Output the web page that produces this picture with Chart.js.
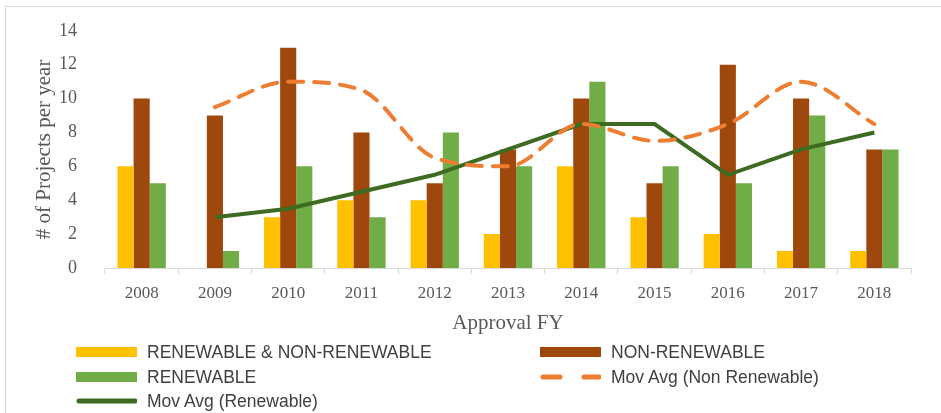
<!DOCTYPE html>
<html>
<head>
<meta charset="utf-8">
<script src="https://cdn.jsdelivr.net/npm/chart.js@4"></script>
<style>
  html, body { margin: 0; padding: 0; background: #fff; }
  #wrap { position: relative; width: 941px; height: 413px; }
  #frame { position: absolute; left: 5px; top: 6px; right: 0; bottom: 0; border-top: 1px solid #d9d9d9; border-left: 1px solid #d9d9d9; }
  #chart { position: absolute; left: 0; top: 0; }
  #legend { position: absolute; left: 0; top: 0; width: 941px; height: 413px; font-family: "Liberation Sans", Arial, sans-serif; font-size: 17.5px; color: #404040; }
  .item { position: absolute; display: flex; align-items: center; height: 20px; white-space: nowrap; }
  .item canvas { margin-right: 10px; }
</style>
</head>
<body>
<div id="wrap">
  <div id="frame"></div>
  <canvas id="chart" width="941" height="413"></canvas>
  <div id="legend"></div>
</div>
<script>
const years = ['2008', '2009', '2010', '2011', '2012', '2013', '2014', '2015', '2016', '2017', '2018'];
const bothProjects = [6, 0, 3, 4, 4, 2, 6, 3, 2, 1, 1];
const nonRenewable = [10, 9, 13, 8, 5, 7, 10, 5, 12, 10, 7];
const renewable = [5, 1, 6, 3, 8, 6, 11, 6, 5, 9, 7];
const movAvgNonRenewable = [null, 9.5, 11, 10.5, 6.5, 6, 8.5, 7.5, 8.5, 11, 8.5];
const movAvgRenewable = [null, 3, 3.5, 4.5, 5.5, 7, 8.5, 8.5, 5.5, 7, 8];
const yTicks = [0, 2, 4, 6, 8, 10, 12, 14];

const serif = '"Liberation Serif", "DejaVu Serif", serif';
const textColor = '#595959';

const datasets = [
    { type: 'bar', label: 'RENEWABLE & NON-RENEWABLE', data: bothProjects, backgroundColor: '#FFC000', order: 3 },
    { type: 'bar', label: 'NON-RENEWABLE', data: nonRenewable, backgroundColor: '#9E480E', order: 3 },
    { type: 'bar', label: 'RENEWABLE', data: renewable, backgroundColor: '#70AD47', order: 3 },
    { type: 'line', label: 'Mov Avg (Non Renewable)', data: movAvgNonRenewable, borderColor: '#ED7D31',
      borderWidth: 4, borderDash: [15, 11], borderCapStyle: 'round', cubicInterpolationMode: 'monotone', pointRadius: 0, order: 1 },
    { type: 'line', label: 'Mov Avg (Renewable)', data: movAvgRenewable, borderColor: '#3D6B22',
      borderWidth: 4, tension: 0, pointRadius: 0, order: 2 }
];

// legend grid positions (two columns, like the original)
const legendSlots = [[76, 352], [540, 352], [76, 377], [540, 377], [76, 401]];

const ctx = document.getElementById('chart').getContext('2d');
new Chart(ctx, {
    data: { labels: years, datasets: datasets },
    options: {
        responsive: false,
        animation: false,
        layout: { padding: { left: 30, right: 30, top: 3, bottom: 77 } },
        datasets: { bar: { barPercentage: 1, categoryPercentage: 0.66 } },
        plugins: { legend: { display: false }, tooltip: { enabled: false } },
        scales: {
            x: {
                offset: true,
                afterFit: (scale) => { scale.height = 68; },
                grid: { offset: true, drawOnChartArea: false, drawTicks: true, tickLength: 6, color: '#d9d9d9' },
                border: { color: '#d9d9d9' },
                ticks: { color: textColor, font: { family: serif, size: 17 }, padding: 9, maxRotation: 0 },
                title: { display: true, text: 'Approval FY', color: textColor, font: { family: serif, size: 21 }, padding: { top: 4, bottom: 0 } }
            },
            y: {
                min: 0,
                max: 14,
                afterFit: (scale) => { scale.width = 75; },
                afterBuildTicks: (scale) => { scale.ticks = yTicks.map(v => ({ value: v })); },
                grid: { display: false },
                border: { display: false },
                ticks: { color: textColor, font: { family: serif, size: 18 }, padding: 20 },
                title: { display: true, text: '# of Projects per year', color: textColor, font: { family: serif, size: 21 }, padding: 2 }
            }
        }
    }
});

// html legend built from the datasets
const legend = document.getElementById('legend');
datasets.forEach((ds, i) => {
    const item = document.createElement('div');
    item.className = 'item';
    item.style.left = legendSlots[i][0] + 'px';
    item.style.top = (legendSlots[i][1] - 10) + 'px';
    const sw = document.createElement('canvas');
    sw.width = 61; sw.height = 12;
    const c = sw.getContext('2d');
    if (ds.type === 'bar') {
        c.fillStyle = ds.backgroundColor;
        c.fillRect(0, 1, 61, 10);
    } else {
        c.strokeStyle = ds.borderColor;
        c.lineWidth = 5;
        c.lineCap = 'round';
        if (ds.borderDash) c.setLineDash([17, 24]);
        c.beginPath(); c.moveTo(3, 6); c.lineTo(59, 6); c.stroke();
    }
    item.appendChild(sw);
    const span = document.createElement('span');
    span.textContent = ds.label;
    item.appendChild(span);
    legend.appendChild(item);
});
</script>
</body>
</html>
